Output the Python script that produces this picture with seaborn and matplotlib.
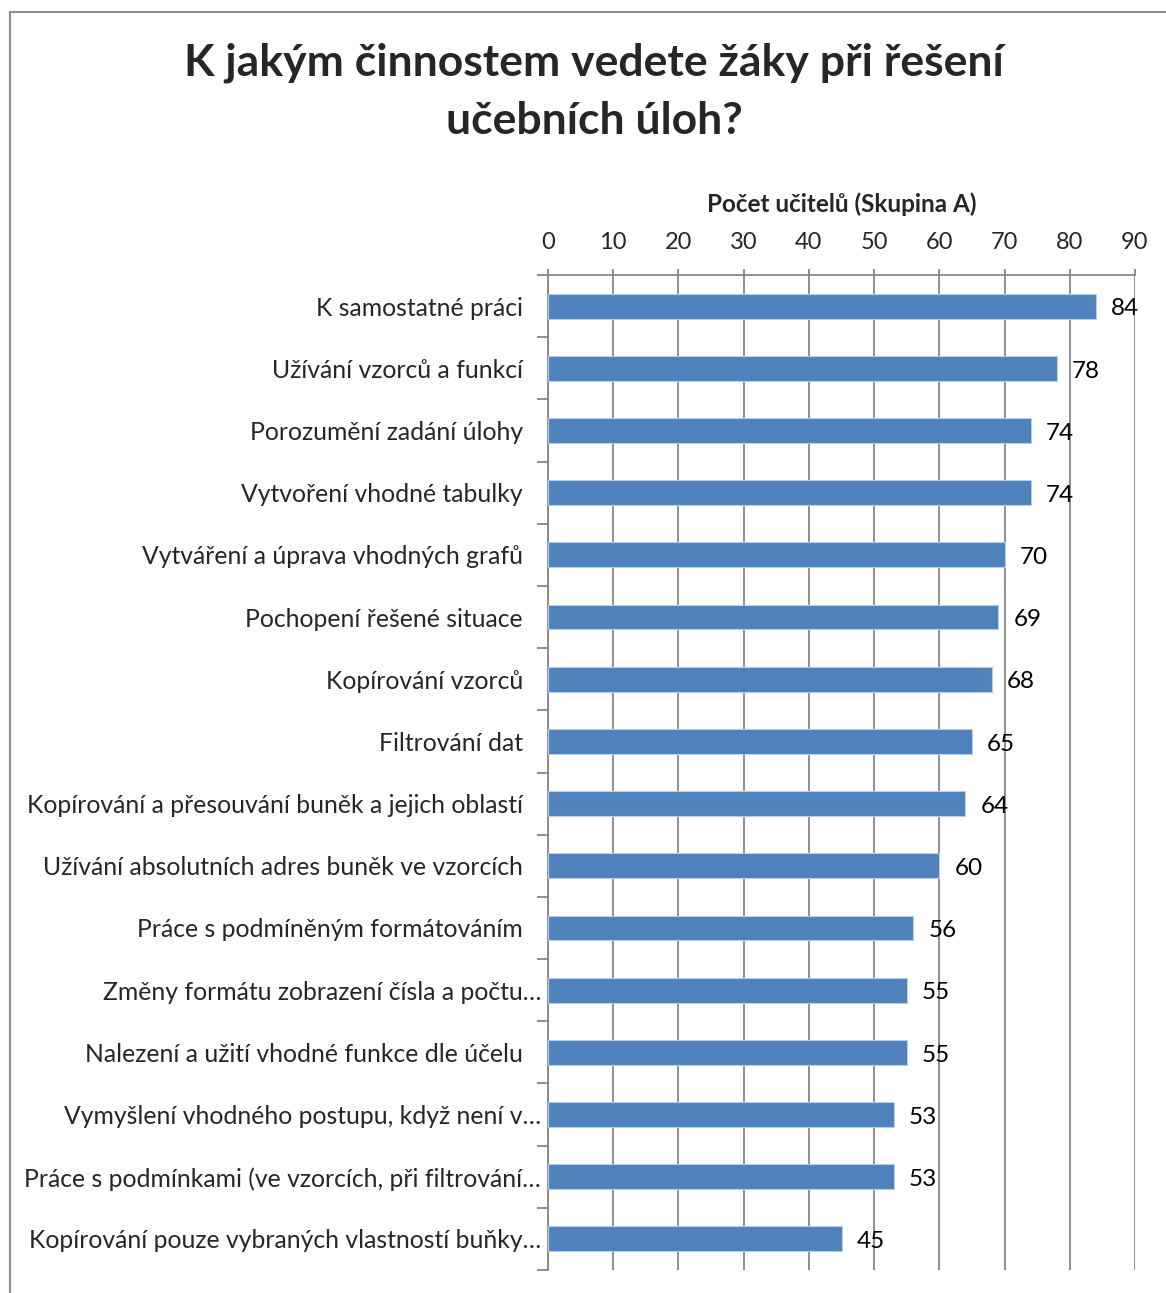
import matplotlib
matplotlib.use("Agg")
import matplotlib.pyplot as plt
import matplotlib.transforms as mtransforms
from matplotlib.patches import Rectangle
import seaborn as sns
import pandas as pd

categories = [
    "K samostatné práci",
    "Užívání vzorců a funkcí",
    "Porozumění zadání úlohy",
    "Vytvoření vhodné tabulky",
    "Vytváření a úprava vhodných grafů",
    "Pochopení řešené situace",
    "Kopírování vzorců",
    "Filtrování dat",
    "Kopírování a přesouvání buněk a jejich oblastí",
    "Užívání absolutních adres buněk ve vzorcích",
    "Práce s podmíněným formátováním",
    "Změny formátu zobrazení čísla a počtu…",
    "Nalezení a užití vhodné funkce dle účelu",
    "Vymyšlení vhodného postupu, když není v…",
    "Práce s podmínkami (ve vzorcích, při filtrování…",
    "Kopírování pouze vybraných vlastností buňky…",
]
counts = [84, 78, 74, 74, 70, 69, 68, 65, 64, 60, 56, 55, 55, 53, 53, 45]
x_ticks = [0, 10, 20, 30, 40, 50, 60, 70, 80, 90]

title = "K jakým činnostem vedete žáky při řešení\nučebních úloh?"
x_label = "Počet učitelů (Skupina A)"

BAR = "#4F81BD"
GRID = "#868686"
FONT = ["Lato", "DejaVu Sans"]

sns.set_theme(style="white")
plt.rcParams["font.family"] = FONT

df = pd.DataFrame({"činnost": categories, "počet": counts})

W, H, DPI = 1166, 1293, 100
fig = plt.figure(figsize=(W / DPI, H / DPI), dpi=DPI)
fig.patch.set_facecolor("white")

# chart frame (open to the right and bottom)
fig.patches.append(Rectangle((10 / W, -0.05), 1.2, 1 - 12 / H + 0.05,
                             transform=fig.transFigure, fill=False,
                             edgecolor="#8c8c8c", linewidth=1.5, zorder=0))

ax = fig.add_axes([548 / W, 1 - 1270 / H, (1135 - 548) / W, 995 / H])
sns.barplot(data=df, y="činnost", x="počet", orient="h", color=BAR,
            width=0.4, saturation=1, edgecolor="#b9cde5", linewidth=0.8,
            ax=ax, zorder=3)

ax.set_xlim(0, 90)
ax.set_ylim(len(categories) - 0.5, -0.5)
ax.set_xticks(x_ticks)
ax.xaxis.tick_top()
ax.xaxis.set_label_position("top")
ax.set_xlabel(x_label, fontsize=17.5, fontweight="bold", labelpad=14)
ax.set_ylabel("")
ax.grid(axis="x", color=GRID, linewidth=1.3, zorder=0)
ax.grid(axis="y", visible=False)

for side in ("right", "bottom"):
    ax.spines[side].set_visible(False)
for side in ("left", "top"):
    ax.spines[side].set_color(GRID)
    ax.spines[side].set_linewidth(1.3)

ax.tick_params(axis="x", which="major", top=True, length=4, width=1.3,
               color=GRID, labelsize=17, pad=12)

# category labels centred on bars, tick marks on category boundaries
ax.set_yticks(range(len(categories)))
ax.set_yticklabels(categories, fontsize=17.8)
ax.tick_params(axis="y", which="major", length=0, pad=18)
ax.set_yticks([i - 0.5 for i in range(len(categories) + 1)], minor=True)
ax.tick_params(axis="y", which="minor", left=True, length=8, width=1.3,
               color=GRID)

shift = mtransforms.ScaledTranslation(18 / DPI, 0, fig.dpi_scale_trans)
for lab in ax.get_yticklabels():
    if lab.get_text().endswith("…"):
        lab.set_transform(lab.get_transform() + shift)

for i, v in enumerate(counts):
    ax.annotate(str(v), (v, i), xytext=(11, -2), textcoords="offset points",
                va="center", ha="left", fontsize=17.5, color="black", zorder=5)

fig.text(594 / W, 1 - 92 / H, title, ha="center", va="center",
         fontsize=32, fontweight="bold", linespacing=1.55)

fig.savefig("out.png", dpi=DPI)
